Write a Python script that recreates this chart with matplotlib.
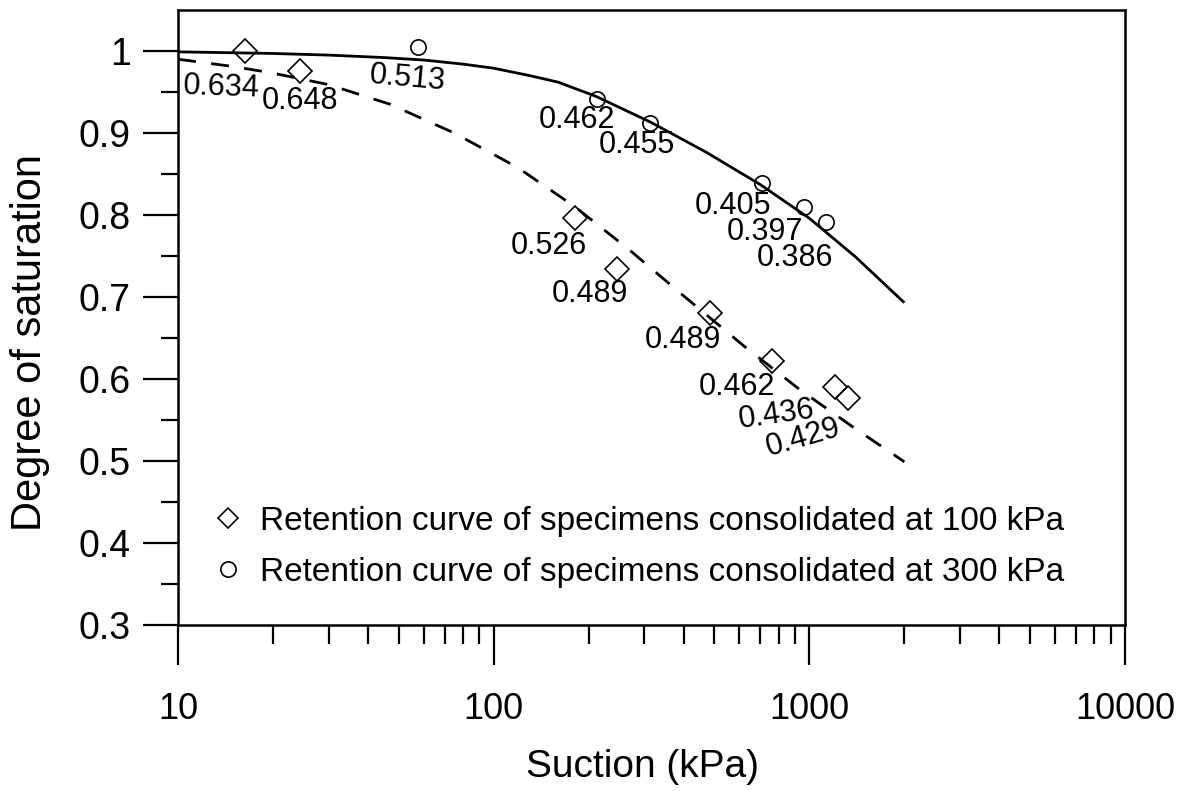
import matplotlib
matplotlib.use("Agg")
import matplotlib.pyplot as plt
from matplotlib.ticker import FixedLocator, NullFormatter, FixedFormatter
from matplotlib.lines import Line2D

plt.rcParams['font.family'] = ['Liberation Sans', 'DejaVu Sans']

# ---- data ----
suction_100 = [16.3, 24.3, 181, 246, 484, 762, 1205, 1325]
sr_100 = [1.000, 0.976, 0.796, 0.734, 0.680, 0.622, 0.590, 0.577]
void_100 = ['0.634', '0.648', '0.526', '0.489', '0.489', '0.462', '0.436', '0.429']

suction_300 = [57.6, 212, 313, 708, 962, 1130]
sr_300 = [1.005, 0.941, 0.912, 0.839, 0.810, 0.791]
void_300 = ['0.513', '0.462', '0.455', '0.405', '0.397', '0.386']

# fitted retention curves
fit300_x = [10, 20, 30, 45, 60, 80, 100, 130, 160, 210, 315, 474, 700, 1000, 1400, 2000]
fit300_y = [0.999, 0.997, 0.995, 0.992, 0.989, 0.984, 0.979, 0.970, 0.962, 0.945, 0.913,
            0.876, 0.837, 0.796, 0.749, 0.693]

fit100_x = [10, 15, 20, 30, 47, 75, 119, 181, 270, 398, 617, 933, 1416, 2000]
fit100_y = [0.990, 0.981, 0.973, 0.959, 0.935, 0.900, 0.858, 0.810, 0.757, 0.702, 0.641,
            0.587, 0.538, 0.499]

x_major = [10, 100, 1000, 10000]
x_labels = ['10', '100', '1000', '10000']
y_major = [0.3, 0.4, 0.5, 0.6, 0.7, 0.8, 0.9, 1.0]
y_labels = ['0.3', '0.4', '0.5', '0.6', '0.7', '0.8', '0.9', '1']

legend_labels = ['Retention curve of specimens consolidated at 100 kPa',
                 'Retention curve of specimens consolidated at 300 kPa']

# label offsets (pixels) relative to marker, and rotations
off_100 = [(-24, -36), (0, -30), (-26, -28), (-27, -25), (-27, -27), (-35, -26), (-58, -28), (-45, -40)]
rot_100 = [-2, 0, 0, 0, 0, 0, 8, 16]
off_300 = [(-11, -31), (-20, -21), (-13, -22), (-29, -23), (-39, -25), (-31, -36)]
rot_300 = [-5, 0, 0, 0, 0, 0]

fig = plt.figure(figsize=(11.83, 7.91), dpi=100)
ax = fig.add_axes([178 / 1183, 1 - 625 / 791, (1125 - 178) / 1183, (625 - 10) / 791])

ax.set_xscale('log')
ax.set_xlim(10, 10000)
ax.set_ylim(0.3, 1.05)

ax.plot(fit300_x, fit300_y, color='black', lw=2.0, solid_capstyle='butt')
ax.plot(fit100_x, fit100_y, color='black', lw=2.0, ls=(0, (6.5, 5.5)))

ax.plot(suction_100, sr_100, ls='none', marker='D', ms=12, mfc='none', mec='black', mew=1.2)
ax.plot(suction_300, sr_300, ls='none', marker='o', ms=11, mfc='none', mec='black', mew=1.2)

for x, y, t, o, r in zip(suction_100, sr_100, void_100, off_100, rot_100):
    ax.annotate(t, (x, y), xytext=o, textcoords='offset pixels', ha='center', va='center',
                fontsize=22, rotation=r)
for x, y, t, o, r in zip(suction_300, sr_300, void_300, off_300, rot_300):
    ax.annotate(t, (x, y), xytext=o, textcoords='offset pixels', ha='center', va='center',
                fontsize=22, rotation=r)

# axes styling
for s in ax.spines.values():
    s.set_linewidth(1.8)

ax.xaxis.set_major_locator(FixedLocator(x_major))
ax.xaxis.set_major_formatter(FixedFormatter(x_labels))
x_minor = [m * d for d in (10, 100, 1000) for m in range(2, 10)]
ax.xaxis.set_minor_locator(FixedLocator(x_minor))
ax.xaxis.set_minor_formatter(NullFormatter())

ax.yaxis.set_major_locator(FixedLocator(y_major))
ax.yaxis.set_major_formatter(FixedFormatter(y_labels))
ax.yaxis.set_minor_locator(FixedLocator([0.35, 0.45, 0.55, 0.65, 0.75, 0.85, 0.95]))

ax.tick_params(axis='x', which='major', direction='out', length=29, width=1.6, labelsize=26, pad=19)
ax.tick_params(axis='x', which='minor', direction='out', length=14, width=1.6)
ax.tick_params(axis='y', which='major', direction='out', length=25, width=1.6, labelsize=27, pad=9)
ax.tick_params(axis='y', which='minor', direction='out', length=12, width=1.6)

ax.set_xlabel('Suction (kPa)', fontsize=28)
ax.set_ylabel('Degree of saturation', fontsize=30)
ax.xaxis.set_label_coords(0.491, -0.231)
ax.xaxis.label.set_va('center')
ax.yaxis.set_label_coords(-0.156, 0.46)
ax.yaxis.label.set_va('center')

handles = [Line2D([], [], ls='none', marker='D', ms=10, mfc='none', mec='black', mew=1.2),
           Line2D([], [], ls='none', marker='o', ms=11, mfc='none', mec='black', mew=1.2)]
ax.legend(handles, legend_labels, loc='upper left', bbox_to_anchor=(0.036, 0.194),
          frameon=False, fontsize=24, handlelength=0.95, handletextpad=0.5,
          labelspacing=0.6, borderpad=0, borderaxespad=0)

fig.savefig('out.png', dpi=100)
